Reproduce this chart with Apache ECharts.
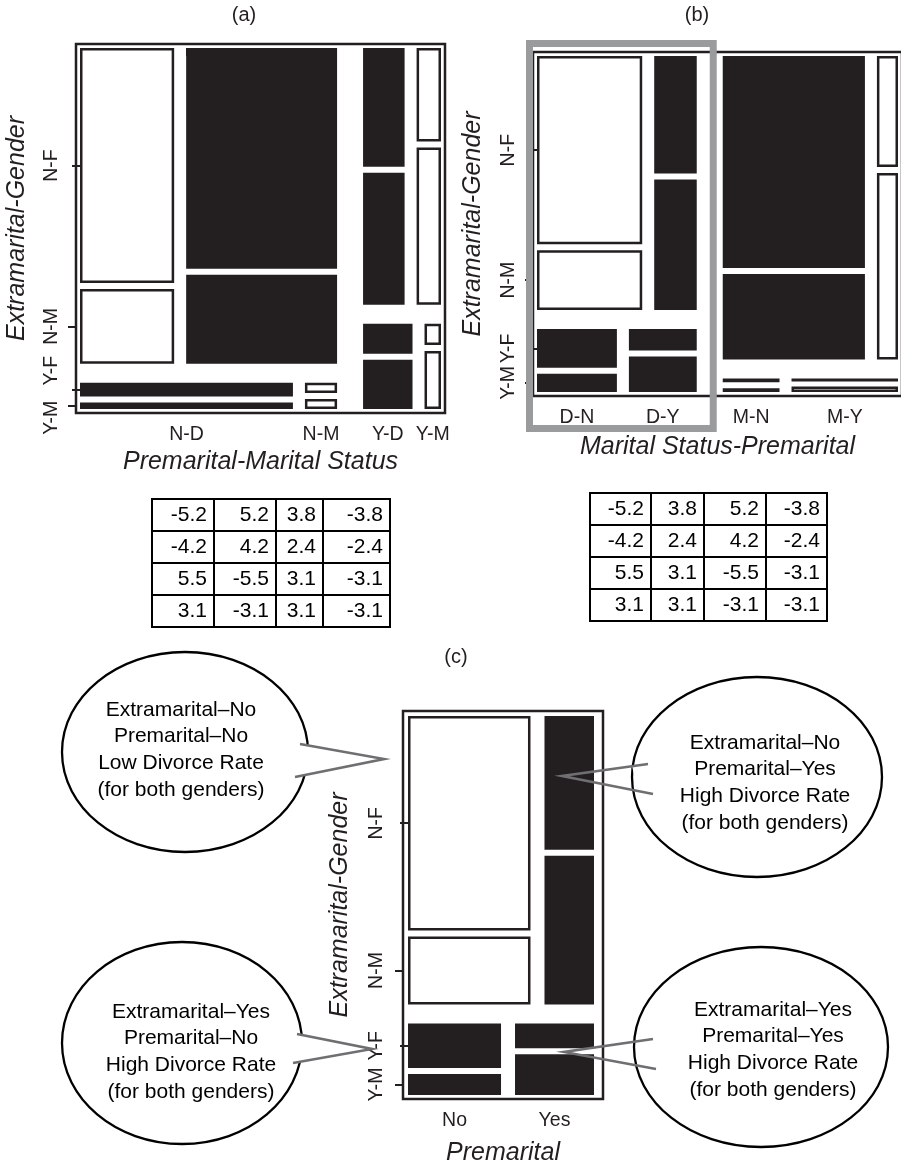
<!DOCTYPE html>
<html>
<head>
<meta charset="utf-8">
<script src="https://cdn.jsdelivr.net/npm/echarts@6.0.0/dist/echarts.min.js"></script>
<style>
  html, body { margin: 0; padding: 0; background: #fff; }
  #chart { width: 901px; height: 1168px; }
</style>
</head>
<body>
<div id="chart"></div>
<script>
// divorce counts, cell order: [Extra N/Pre N, Extra N/Pre Y, Extra Y/Pre N, Extra Y/Pre Y]
const womenDivorced = [214, 54, 36, 17];
const womenMarried = [322, 25, 4, 4];
const menDivorced = [68, 60, 17, 28];
const menMarried = [130, 42, 4, 11];

const yLabels = ["N-F", "N-M", "Y-F", "Y-M"];
const xLabelsA = ["N-D", "N-M", "Y-D", "Y-M"];
const xLabelsB = ["D-N", "D-Y", "M-N", "M-Y"];
const xLabelsC = ["No", "Yes"];

// residuals, rows N-F, N-M, Y-F, Y-M
const residA = [
  [-5.2, 5.2, 3.8, -3.8],
  [-4.2, 4.2, 2.4, -2.4],
  [5.5, -5.5, 3.1, -3.1],
  [3.1, -3.1, 3.1, -3.1]
];
const residB = [
  [-5.2, 3.8, 5.2, -3.8],
  [-4.2, 2.4, 4.2, -2.4],
  [5.5, 3.1, -5.5, -3.1],
  [3.1, 3.1, -3.1, -3.1]
];

const bubbleTexts = [
  "Extramarital\u2013No\nPremarital\u2013No\nLow Divorce Rate\n(for both genders)",
  "Extramarital\u2013No\nPremarital\u2013Yes\nHigh Divorce Rate\n(for both genders)",
  "Extramarital\u2013Yes\nPremarital\u2013No\nHigh Divorce Rate\n(for both genders)",
  "Extramarital\u2013Yes\nPremarital\u2013Yes\nHigh Divorce Rate\n(for both genders)"
];

const DARK = "#231f20";
const FONT = '"Liberation Sans", Arial, Helvetica, sans-serif';

function count(p, e, s, g) {
  const i = e * 2 + p;
  if (s === 0) return g === 0 ? womenDivorced[i] : menDivorced[i];
  return g === 0 ? womenMarried[i] : menMarried[i];
}
function total(fixed) {
  let t = 0;
  for (let p = 0; p < 2; p++)
    for (let e = 0; e < 2; e++)
      for (let s = 0; s < 2; s++)
        for (let g = 0; g < 2; g++) {
          const c = { p, e, s, g };
          if (Object.keys(fixed).every((k) => fixed[k] === c[k])) t += count(p, e, s, g);
        }
  return t;
}
// recursive mosaic split in 0..1 units
function mosaic(splits, fixed, rect, out) {
  if (!splits.length) {
    out.push(Object.assign({}, fixed, rect));
    return;
  }
  const sp = splits[0];
  const sums = [0, 1].map((v) => total(Object.assign({}, fixed, { [sp.v]: v })));
  const all = sums[0] + sums[1];
  const horiz = sp.dir === "x";
  const len = (horiz ? rect.x1 - rect.x0 : rect.y1 - rect.y0) - sp.gap;
  let pos = horiz ? rect.x0 : rect.y0;
  sums.forEach((s, i) => {
    const size = (len * s) / all;
    const r = Object.assign({}, rect);
    if (horiz) { r.x0 = pos; r.x1 = pos + size; } else { r.y0 = pos; r.y1 = pos + size; }
    mosaic(splits.slice(1), Object.assign({}, fixed, { [sp.v]: i }), r, out);
    pos += size + sp.gap;
  });
}

const panelA = { left: 80, top: 48, w: 361, h: 361, padL: 4, padR: 4, padT: 4, padB: 4 };
const panelB = { left: 537, top: 56, w: 361, h: 336, padL: 4, padR: 4, padT: 4, padB: 4 };
const panelC = { left: 408, top: 716, w: 186, h: 379, padL: 5, padR: 9, padT: 5, padB: 4 };
// screen shift of crowded y labels (px, + = down)
const labelShiftA = [0, 0, -19, 12];
const noShift = [0, 0, 0, 0];

const tilesA = [];
mosaic([
  { v: "p", dir: "x", gap: 26 / panelA.w },
  { v: "e", dir: "y", gap: 19 / panelA.h },
  { v: "s", dir: "x", gap: 12 / panelA.w },
  { v: "g", dir: "y", gap: 6 / panelA.h }
], {}, { x0: 0, x1: 1, y0: 0, y1: 1 }, tilesA);

const tilesB = [];
mosaic([
  { v: "s", dir: "x", gap: 26 / panelB.w },
  { v: "e", dir: "y", gap: 19 / panelB.h },
  { v: "p", dir: "x", gap: 12 / panelB.w },
  { v: "g", dir: "y", gap: 6 / panelB.h }
], {}, { x0: 0, x1: 1, y0: 0, y1: 1 }, tilesB);

const tilesC = [];
mosaic([
  { v: "e", dir: "y", gap: 19 / panelC.h },
  { v: "p", dir: "x", gap: 14 / panelC.w },
  { v: "g", dir: "y", gap: 6 / panelC.h }
], { s: 0 }, { x0: 0, x1: 1, y0: 0, y1: 1 }, tilesC);

function tileData(tiles, resid, colOf) {
  return tiles.map((t) => [t.x0, t.y0, t.x1, t.y1, resid[t.e * 2 + t.g][colOf(t)] > 0 ? 1 : 0]);
}
function centers(tiles, filt, key, axis) {
  return tiles.filter(filt).sort((a, b) => key(a) - key(b))
    .map((t) => (axis === "x" ? (t.x0 + t.x1) / 2 : (t.y0 + t.y1) / 2));
}
const colA = (t) => t.p * 2 + t.s;
const colB = (t) => t.s * 2 + t.p;
const rowKey = (t) => t.e * 2 + t.g;

const yTicksA = centers(tilesA, (t) => t.p === 0 && t.s === 0, rowKey, "y");
const xTicksA = centers(tilesA, (t) => t.e === 1 && t.g === 1, colA, "x");
const yTicksB = centers(tilesB, (t) => t.p === 0 && t.s === 0, rowKey, "y");
const xTicksB = centers(tilesB, (t) => t.e === 1 && t.g === 1, colB, "x");
const yTicksC = centers(tilesC, (t) => t.p === 0, rowKey, "y");
const xTicksC = centers(tilesC, (t) => t.e === 1 && t.g === 1, (t) => t.p, "x");

function nearestIndex(ticks, v) {
  let best = 0;
  ticks.forEach((t, i) => { if (Math.abs(t - v) < Math.abs(ticks[best] - v)) best = i; });
  return best;
}
function nearestLabel(ticks, labels) {
  return (v) => labels[nearestIndex(ticks, v)];
}
const pick = (arr, parity) => arr.filter((_, i) => i % 2 === parity);

function panelGrid(p) {
  return {
    left: p.left - p.padL, top: p.top - p.padT,
    width: p.w + p.padL + p.padR, height: p.h + p.padT + p.padB,
    show: true, borderColor: DARK, borderWidth: 2.5,
    containLabel: false, outerBoundsMode: "none"
  };
}
function panelX(idx, p, ticks, labels, name, nameGap) {
  return {
    gridIndex: idx, type: "value", min: -p.padL / p.w, max: 1 + p.padR / p.w,
    splitLine: { show: false }, axisLine: { show: false },
    axisTick: { show: true, length: 8, lineStyle: { color: DARK, width: 2 }, customValues: ticks },
    axisLabel: { customValues: ticks, formatter: nearestLabel(ticks, labels), margin: 12,
      showMinLabel: true, showMaxLabel: true,
      fontSize: 19.5, color: DARK, fontFamily: FONT },
    name: name, nameLocation: "middle", nameGap: nameGap,
    nameTextStyle: { fontStyle: "italic", fontSize: 25, color: DARK, fontFamily: FONT }
  };
}
// y labels are split over two stacked axes (even / odd ticks) so that
// overlapping neighbours such as "Y-M" and "Y-F" are both kept
function panelY(idx, p, ticks, labels, name, nameGap, margin, parity, shifts) {
  const t = pick(ticks, parity), l = pick(labels, parity), sh = pick(shifts, parity);
  const base = { fontSize: 19.5, color: DARK, fontFamily: FONT };
  const rich = { n: base };
  sh.forEach((s, i) => {
    // rotated text: left padding moves glyphs up, right padding moves them down
    rich["s" + i] = Object.assign({}, base, { padding: s < 0 ? [0, 0, 0, -2 * s] : [0, 2 * s, 0, 0] });
  });
  return {
    gridIndex: idx, type: "value", inverse: true, position: "left", offset: 0,
    min: -p.padT / p.h, max: 1 + p.padB / p.h,
    splitLine: { show: false }, axisLine: { show: false },
    axisTick: { show: true, length: 8, lineStyle: { color: DARK, width: 2 }, customValues: t },
    axisLabel: {
      customValues: t, margin: margin, rotate: 90,
      formatter: (v) => {
        const i = nearestIndex(t, v);
        return sh[i] ? "{s" + i + "|" + l[i] + "}" : "{n|" + l[i] + "}";
      },
      rich: rich, showMinLabel: true, showMaxLabel: true,
      fontSize: 19.5, color: DARK, fontFamily: FONT
    },
    name: parity === 0 ? name : "", nameLocation: "middle", nameGap: nameGap,
    nameTextStyle: { fontStyle: "italic", fontSize: 25, color: DARK, fontFamily: FONT }
  };
}

function renderTile(params, api) {
  const a = api.coord([api.value(0), api.value(1)]);
  const b = api.coord([api.value(2), api.value(3)]);
  const x = Math.min(a[0], b[0]), y = Math.min(a[1], b[1]);
  const w = Math.abs(b[0] - a[0]), h = Math.abs(b[1] - a[1]);
  if (api.value(4) > 0) {
    return { type: "rect", shape: { x, y, width: w, height: h }, style: { fill: DARK } };
  }
  const lw = 2.5;
  return {
    type: "rect",
    shape: { x: x + lw / 2, y: y + lw / 2, width: Math.max(w - lw, 0.5), height: Math.max(h - lw, 0.5) },
    style: { fill: "#fff", stroke: DARK, lineWidth: lw }
  };
}
function tileSeries(idx, data) {
  return {
    type: "custom", xAxisIndex: idx, yAxisIndex: idx, data: data,
    encode: { x: [0, 2], y: [1, 3] }, renderItem: renderTile, silent: true
  };
}

// residual tables
const edgesA = [0, 62, 124, 171, 238];
const edgesB = [0, 61, 114, 176, 237];
function tableData(resid) {
  const d = [];
  resid.forEach((row, r) => row.forEach((v, c) => d.push([c, r, v])));
  return d;
}
function tableSeries(idx, resid, edges) {
  return {
    type: "custom", xAxisIndex: idx, yAxisIndex: idx, data: tableData(resid), silent: true,
    renderItem: (params, api) => {
      const c = api.value(0), r = api.value(1);
      const l = api.coord([edges[c], r]);
      const rr = api.coord([edges[c + 1], r]);
      const h = api.size([0, 1])[1];
      return {
        type: "group",
        children: [
          { type: "rect", shape: { x: l[0], y: l[1] - h / 2, width: rr[0] - l[0], height: h },
            style: { fill: "#fff", stroke: "#000", lineWidth: 2 } },
          { type: "text", x: rr[0] - 7, y: l[1],
            style: { text: api.value(2).toFixed(1), textAlign: "right", align: "right",
              textVerticalAlign: "middle", verticalAlign: "middle",
              font: "21px " + FONT, fill: "#000" } }
        ]
      };
    }
  };
}
function tableGrid(left, top, width, height) {
  return { left, top, width, height, containLabel: false, outerBoundsMode: "none" };
}
function tableX(idx, edges) {
  return { gridIndex: idx, type: "value", min: 0, max: edges[edges.length - 1], show: false };
}
function tableY(idx) {
  return { gridIndex: idx, type: "category", data: ["0", "1", "2", "3"], inverse: true, show: false };
}

// gray frame around the divorced columns in (b)
const dTiles = tilesB.filter((t) => t.s === 0);
const boxB = [[Math.min(...dTiles.map((t) => t.x0)), 0, Math.max(...dTiles.map((t) => t.x1)), 1]];

// callout bubbles for (c)
const bubbles = [
  { cx: 185, cy: 752, rx: 123, ry: 100, tx: 181, ty: 750, tip: [384, 759], p1: [300, 744], p2: [295, 777] },
  { cx: 757, cy: 777, rx: 125, ry: 100, tx: 765, ty: 783, tip: [562, 776], p1: [648, 764], p2: [653, 794] },
  { cx: 182, cy: 1043, rx: 120, ry: 101, tx: 191, ty: 1052, tip: [372, 1049], p1: [297, 1034], p2: [293, 1063] },
  { cx: 761, cy: 1047, rx: 127, ry: 100, tx: 773, ty: 1050, tip: [564, 1052], p1: [653, 1039], p2: [656, 1069] }
];
const graphics = [];
function toward(p, q, d) {
  const dx = q[0] - p[0], dy = q[1] - p[1], L = Math.hypot(dx, dy);
  return [p[0] + (dx * d) / L, p[1] + (dy * d) / L];
}
bubbles.forEach((b, i) => {
  graphics.push({ type: "ellipse", z: 100, shape: { cx: b.cx, cy: b.cy, rx: b.rx, ry: b.ry },
    style: { fill: "#fff", stroke: "#000", lineWidth: 2.3 } });
  graphics.push({ type: "polygon", z: 101,
    shape: { points: [b.p1, toward(b.p1, b.tip, 16), toward(b.p2, b.tip, 16), b.p2] },
    style: { fill: "#fff", lineWidth: 0 } });
  graphics.push({ type: "polyline", z: 102, shape: { points: [b.p1, b.tip, b.p2] },
    style: { fill: null, stroke: "#6f6f71", lineWidth: 2.6 } });
  graphics.push({ type: "text", z: 103, x: b.tx, y: b.ty,
    style: { text: bubbleTexts[i], textAlign: "center", align: "center",
      textVerticalAlign: "middle", verticalAlign: "middle", lineHeight: 26.6,
      font: "21px " + FONT, fill: "#000" } });
});
[["(a)", 244, 15], ["(b)", 697, 15], ["(c)", 456, 657]].forEach((t) => {
  graphics.push({ type: "text", x: t[1], y: t[2],
    style: { text: t[0], textAlign: "center", align: "center",
      textVerticalAlign: "middle", verticalAlign: "middle", font: "20px " + FONT, fill: DARK } });
});

const chart = echarts.init(document.getElementById("chart"));
chart.setOption({
  animation: false,
  backgroundColor: "#fff",
  grid: [
    panelGrid(panelA), panelGrid(panelB), panelGrid(panelC),
    tableGrid(152, 499, 238, 128), tableGrid(590, 493, 237, 128)
  ],
  xAxis: [
    panelX(0, panelA, xTicksA, xLabelsA, "Premarital-Marital Status", 37),
    panelX(1, panelB, xTicksB, xLabelsB, "Marital Status-Premarital", 39),
    panelX(2, panelC, xTicksC, xLabelsC, "Premarital", 42),
    tableX(3, edgesA), tableX(4, edgesB)
  ],
  yAxis: [
    panelY(0, panelA, yTicksA, yLabels, "Extramarital-Gender", 46, 14, 0, labelShiftA),
    panelY(1, panelB, yTicksB, yLabels, "Extramarital-Gender", 47, 14, 0, noShift),
    panelY(2, panelC, yTicksC, yLabels, "Extramarital-Gender", 50, 16, 0, noShift),
    tableY(3), tableY(4),
    panelY(0, panelA, yTicksA, yLabels, "", 46, 14, 1, labelShiftA),
    panelY(1, panelB, yTicksB, yLabels, "", 47, 14, 1, noShift),
    panelY(2, panelC, yTicksC, yLabels, "", 50, 16, 1, noShift)
  ],
  series: [
    tileSeries(0, tileData(tilesA, residA, colA)),
    tileSeries(1, tileData(tilesB, residB, colB)),
    tileSeries(2, tileData(tilesC, residB, colB)),
    {
      type: "custom", xAxisIndex: 1, yAxisIndex: 1, data: boxB, silent: true, z: 5,
      encode: { x: [0, 2], y: [1, 3] },
      renderItem: (params, api) => {
        const a = api.coord([api.value(0), api.value(1)]);
        const b = api.coord([api.value(2), api.value(3)]);
        return {
          type: "rect",
          shape: { x: a[0] - 7.5, y: a[1] - 12.5, width: b[0] - a[0] + 24, height: b[1] - a[1] + 49 },
          style: { fill: null, stroke: "#9a9b9d", lineWidth: 7 }
        };
      }
    },
    tableSeries(3, residA, edgesA),
    tableSeries(4, residB, edgesB)
  ],
  graphic: { elements: graphics }
});
</script>
</body>
</html>
